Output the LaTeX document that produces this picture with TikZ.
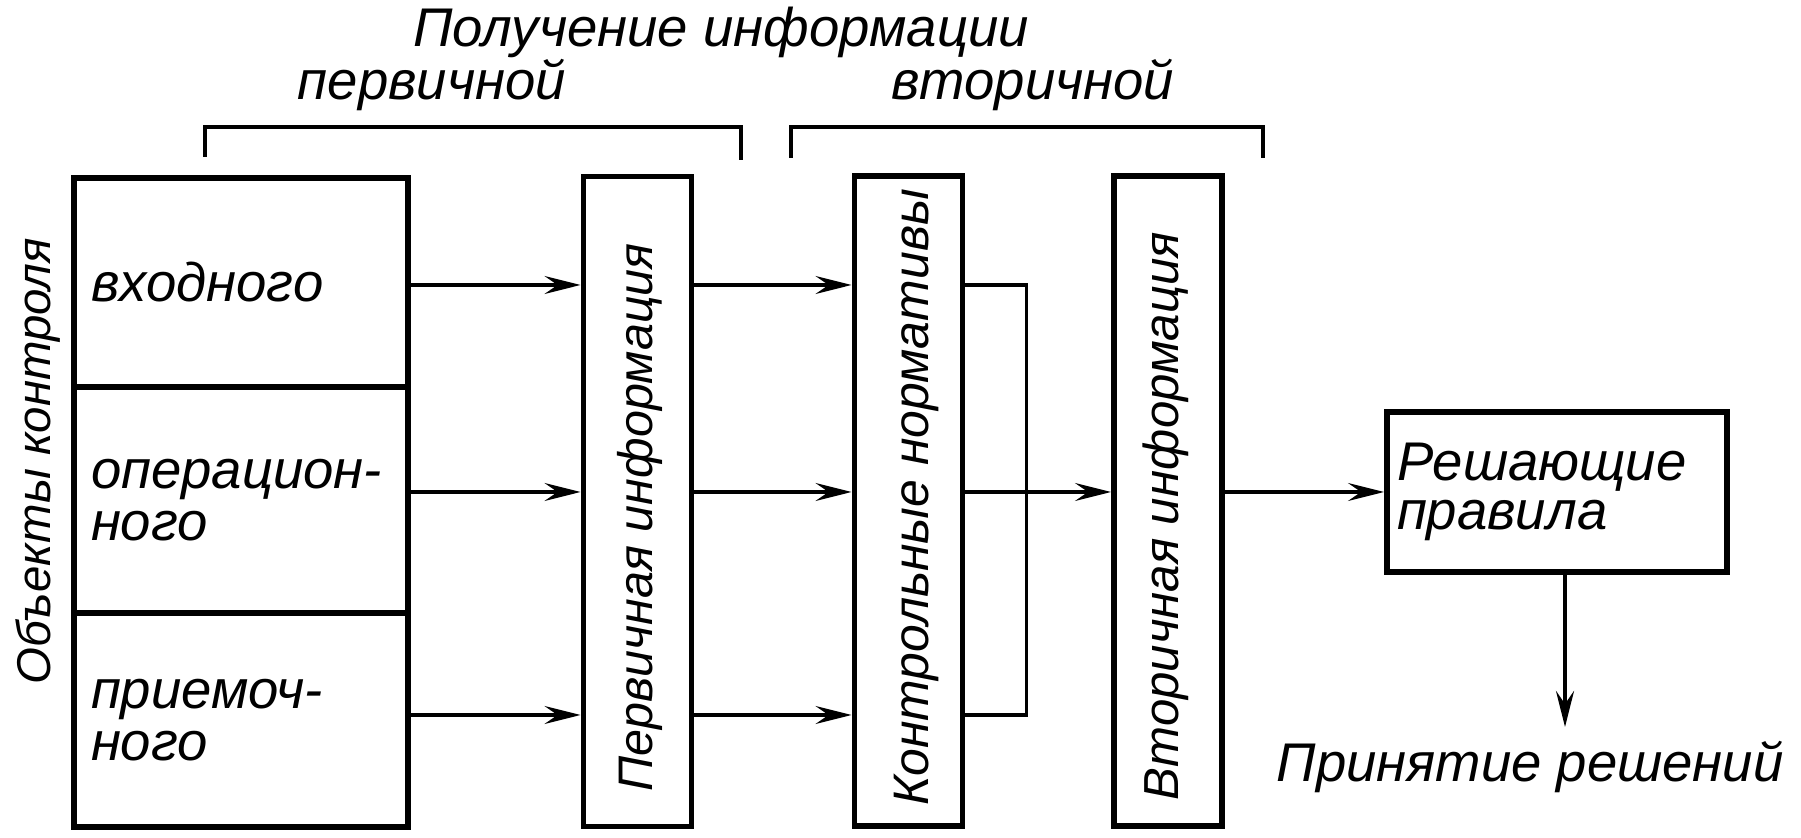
\documentclass[tikz,border=0pt]{standalone}
\usepackage{fontspec}
\setmainfont{Liberation Sans}
\usetikzlibrary{arrows.meta,positioning}

\begin{document}
\begin{tikzpicture}[
  x=1cm, y=1cm,
  section/.style={draw, line width=1.7pt, minimum height=#1, text width=3.0cm,
    inner xsep=0.17cm, inner ysep=0.2cm, align=left, font=\fontsize{15.5}{15}\selectfont\itshape},
  column/.style={draw, line width=1.7pt, minimum width=1.08cm, minimum height=6.5cm, inner sep=0pt},
  rulebox/.style={draw, line width=1.7pt, minimum width=3.40cm, minimum height=1.6cm,
    text width=3.20cm, inner xsep=0.1cm, inner ysep=0.18cm, align=left,
    font=\fontsize{15.5}{14}\selectfont\itshape},
  vlabel/.style={rotate=90, anchor=base, inner sep=0pt, font=\fontsize{#1}{15}\selectfont\itshape},
  hlabel/.style={anchor=base, inner sep=0pt, font=\fontsize{15.5}{15}\selectfont\itshape},
  msg/.style={-{Stealth[length=3.6mm, width=1.8mm, inset=1.3mm]}, line width=0.9pt},
  wire/.style={line width=1.1pt}
]
  \useasboundingbox (0,0) rectangle (18.01,8.37);

  % Objects of control — three stacked cells
  \node[section=2.09cm] (input)  at (2.41,5.545) {входного};
  \node[section=2.26cm] (oper)   at (2.41,3.37)  {операцион-\\ного};
  \node[section=2.14cm] (accept) at (2.41,1.17)  {приемоч-\\ного};
  \node[vlabel=13.5] (objlbl) at (0.50,3.76) {Объекты контроля};

  % Vertical columns
  \node[column] (prim) at ( 6.375,3.355) {};
  \node[column] (norm) at ( 9.085,3.36)  {};
  \node[column] (sec)  at (11.68, 3.36)  {};
  \node[vlabel=13.8] (primtxt) at ( 6.52,3.195) {Первичная информация};
  \node[vlabel=14.2] (normtxt) at ( 9.28,3.395) {Контрольные нормативы};
  \node[vlabel=14]   (sectxt)  at (11.78,3.21)  {Вторичная информация};

  % Decision rules and output
  \node[rulebox] (rules) at (15.57,3.45) {Решающие\\правила};
  \node[hlabel] (decide) at (15.30,0.55) {Принятие решений};

  % Rows of the arrows
  \coordinate (row1) at (0,5.52);
  \coordinate (row2) at (0,3.45);
  \coordinate (row3) at (0,1.22);

  \foreach \r/\s in {row1/input, row2/oper, row3/accept} {
    \draw[msg] (\s.east |- \r) -- (prim.west |- \r);
    \draw[msg] (prim.east |- \r) -- (norm.west |- \r);
  }

  % Feedback bracket on the norms column
  \draw[wire] (norm.east |- row1) -- ++(0.61,0) |- (norm.east |- row3);

  \draw[msg] (norm.east |- row2) -- (sec.west |- row2);
  \draw[msg] (sec.east |- rules.west) -- (rules.west);
  \draw[msg, line width=1.3pt] ([xshift=0.08cm]rules.south) -- ([xshift=0.08cm]rules.south |- 0,1.10);

  % Headings with brackets
  \node[hlabel] (title)   at ( 7.21,7.90) {Получение информации};
  \node[hlabel] (primlbl) at ( 4.32,7.37) {первичной};
  \node[hlabel] (seclbl)  at (10.33,7.37) {вторичной};
  \draw[wire] (2.05,6.80) |- (7.41,7.10) -- (7.41,6.77);
  \draw[wire] (7.91,6.79) |- (12.63,7.10) -- (12.63,6.79);

\end{tikzpicture}
\end{document}
